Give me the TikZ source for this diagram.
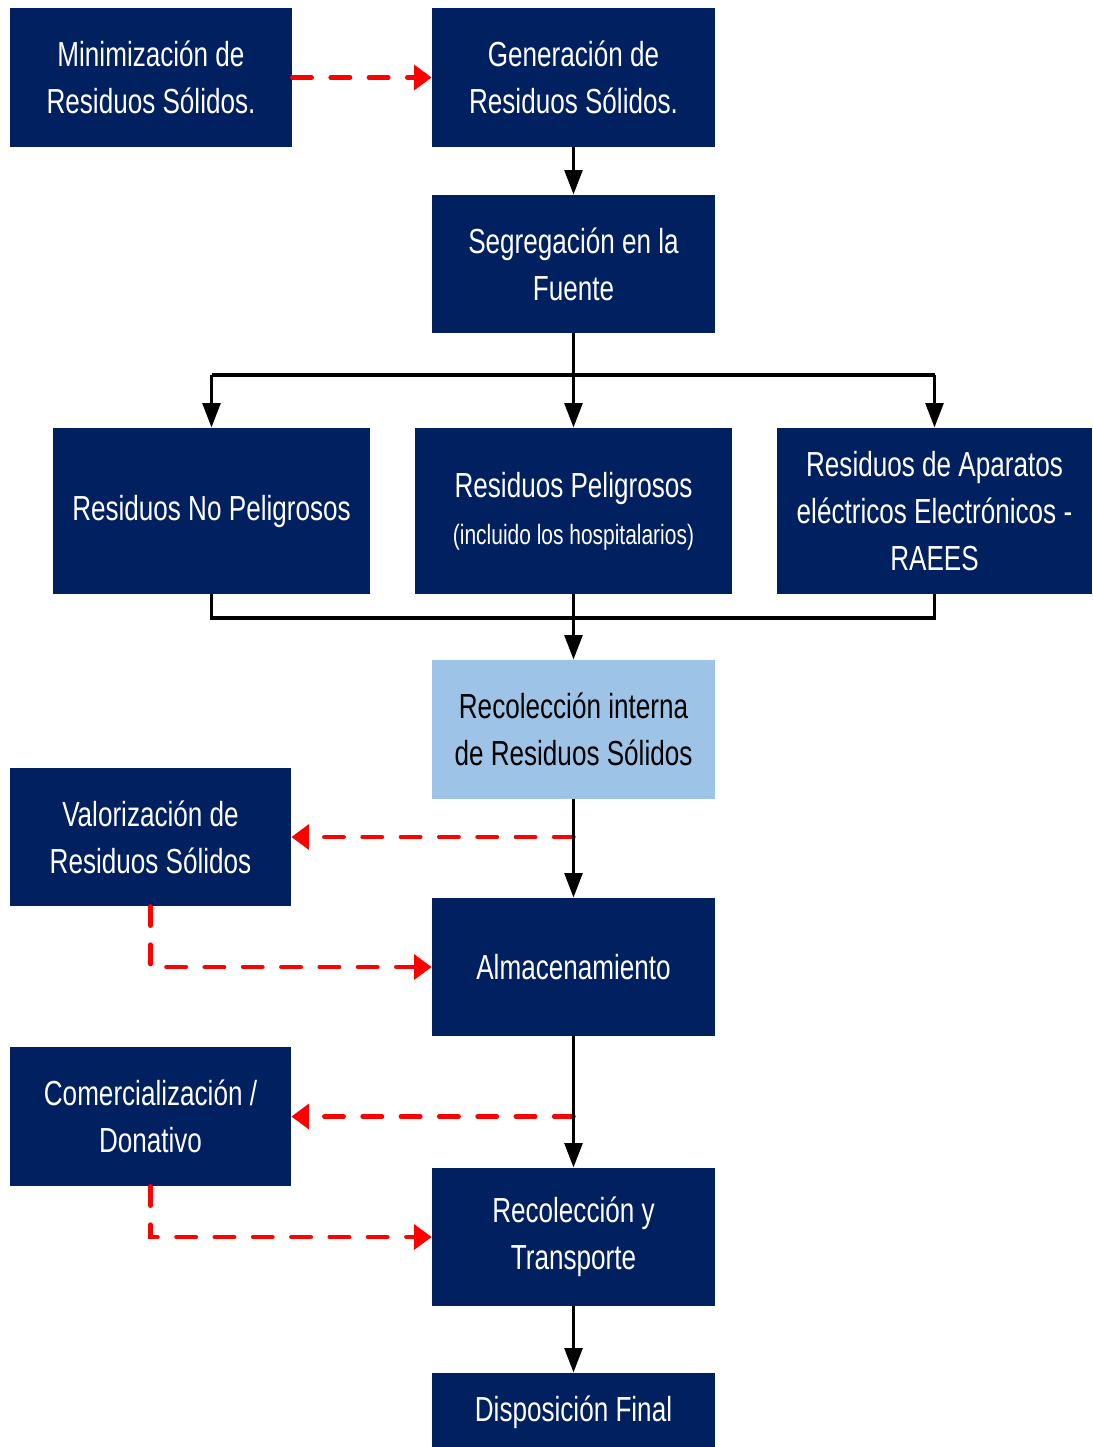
\documentclass[tikz,border=0pt]{standalone}
\usepackage{fontspec}
\setmainfont{Liberation Sans}[FakeStretch=0.75]
\usetikzlibrary{arrows.meta}
\definecolor{navy}{RGB}{0,32,96}
\definecolor{lightblue}{RGB}{157,195,230}

\begin{document}
\begin{tikzpicture}[
    >={Triangle[length=14pt,width=10pt]},
    box/.style={rectangle, fill=navy, text=white, align=center, inner sep=0pt,
      minimum width=5.66cm, minimum height=2.78cm, font=\fontsize{19.8}{26.7}\selectfont},
    wide/.style={box, minimum width=6.34cm, minimum height=3.32cm},
    lbox/.style={box, fill=lightblue, text=black},
    blk/.style={line width=2.2pt},
    opt/.style={draw=red, line width=2.6pt, dash pattern=on 11pt off 10.8pt, line cap=round},
    optarrow/.style={opt, -{Triangle[length=10pt,width=14pt]}}
  ]
    \useasboundingbox (0,0) rectangle (21.84,-28.94);

    % cajas
    \node[box, minimum width=5.64cm] (mini) at (3.02, -1.55) {Minimización de\\Residuos Sólidos.};
    \node[box] (gen) at (11.47, -1.55) {Generación de\\Residuos Sólidos.};
    \node[box, minimum height=2.76cm] (seg) at (11.47, -5.28) {Segregación en la\\Fuente};
    \node[wide] (nopel) at (4.23, -10.22) {Residuos No Peligrosos};
    \node[wide] (pel) at (11.47, -10.22) {Residuos Peligrosos\\{\fontsize{15.9}{26.7}\selectfont (incluido los hospitalarios)}};
    \node[wide, minimum width=6.3cm] (raees) at (18.69, -10.22) {Residuos de Aparatos\\eléctricos Electrónicos -\\RAEES};
    \node[lbox] (recint) at (11.47, -14.59) {Recolección interna\\de Residuos Sólidos};
    \node[box, minimum width=5.62cm, minimum height=2.76cm] (val) at (3.01, -16.74) {Valorización de\\Residuos Sólidos};
    \node[box, minimum height=2.76cm] (alm) at (11.47, -19.34) {Almacenamiento};
    \node[box, minimum width=5.62cm] (com) at (3.01, -22.33) {Comercialización /\\Donativo};
    \node[box, minimum height=2.76cm] (ryt) at (11.47, -24.74) {Recolección y\\Transporte};
    \node[box, minimum height=1.56cm] (disp) at (11.47, -28.24) {Disposición Final};

    % puntos de union
    \coordinate (split) at (11.47, -7.5);
    \coordinate (join) at (11.47, -12.36);
    \coordinate (v1) at (11.47, -16.74);
    \coordinate (c1) at (11.47, -22.33);

    % lineas rojas
    \draw[optarrow] (mini.east) -- (gen.west);
    \draw[optarrow] (v1) -- (val.east);
    \draw[optarrow] (val.south) |- (alm.west);
    \draw[optarrow] (c1) -- (com.east);
    \draw[optarrow] (com.south) |- (ryt.west);

    % flujo principal
    \draw[blk, ->] (gen) -- (seg);
    \draw[blk] (seg) -- (split);
    \draw[blk] (nopel.north |- split) -- (raees.north |- split);
    \draw[blk, ->] (nopel.north |- split) -- (nopel.north);
    \draw[blk, ->] (split) -- (pel.north);
    \draw[blk, ->] (raees.north |- split) -- (raees.north);
    \draw[blk] (nopel.south) -- (nopel.south |- join) -- (raees.south |- join) -- (raees.south);
    \draw[blk] (pel.south) -- (join);
    \draw[blk, ->] (join) -- (recint.north);
    \draw[blk, ->] (recint) -- (alm);
    \draw[blk, ->] (alm) -- (ryt);
    \draw[blk, ->] (ryt) -- (disp);
  \end{tikzpicture}
\end{document}
